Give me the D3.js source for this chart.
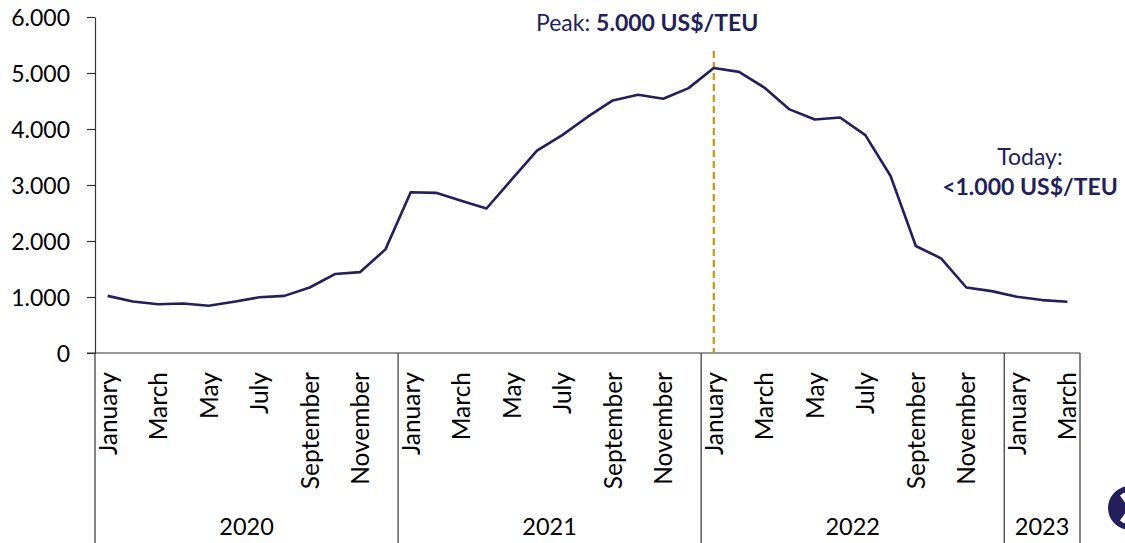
<!DOCTYPE html>
<html lang="en">
<head>
<meta charset="UTF-8">
<title>Container freight rate</title>
<script src="https://d3js.org/d3.v7.min.js"></script>
<style>
  body { margin: 0; background: #fff; }
  svg text { font-family: Lato, "Open Sans", sans-serif; }
</style>
</head>
<body>
<div id="chart"></div>
<script>
// monthly rate, US$/TEU, Jan 2020 .. Mar 2023
var years = ["2020", "2021", "2022", "2023"];
var yearMonths = [12, 12, 12, 3];
var monthNames = ["January", "February", "March", "April", "May", "June", "July",
                  "August", "September", "October", "November", "December"];
var rates = [1020, 920, 870, 885, 845, 915, 995, 1020, 1170, 1410, 1445, 1850,
             2870, 2860, 2720, 2580, 3100, 3615, 3890, 4215, 4510, 4610, 4540, 4730,
             5090, 5020, 4740, 4350, 4170, 4205, 3890, 3160, 1910, 1690, 1170, 1105,
             1005, 945, 915];
var yTicks = [0, 1000, 2000, 3000, 4000, 5000, 6000];
var peakIndex = 24;

var W = 1125, H = 543;
var plotLeft = 95, plotRight = 1080, plotTop = 17, plotBase = 353;
var navy = "#221f5b";

// build category list
var cats = [];
years.forEach(function(yr, yi) {
    for (var m = 0; m < yearMonths[yi]; m++) {
        cats.push({ year: yr, month: monthNames[m], m: m, i: cats.length });
    }
});

var svg = d3.select("#chart").append("svg")
    .attr("width", W)
    .attr("height", H);

var x = d3.scaleBand()
    .domain(d3.range(cats.length))
    .range([plotLeft, plotRight])
    .padding(0);

var y = d3.scaleLinear()
    .domain([0, 6000])
    .range([plotBase, plotTop]);

// y axis
var yAxis = d3.axisLeft(y)
    .tickValues(yTicks)
    .tickSize(8)
    .tickSizeOuter(0)
    .tickFormat(function(d) { return d3.format(",")(d).replace(/,/g, "."); });

var gy = svg.append("g")
    .attr("transform", "translate(" + plotLeft + ",0)")
    .call(yAxis);
gy.select(".domain").attr("stroke", "#333").attr("stroke-width", 1.2);
gy.selectAll(".tick line").attr("stroke", "#333").attr("stroke-width", 1.2);
gy.selectAll(".tick text")
    .attr("x", -25)
    .attr("dy", "0.36em")
    .style("font-size", "23px")
    .attr("fill", "#000");

// x axis base line + group separators
svg.append("line")
    .attr("x1", plotLeft - 8).attr("x2", plotRight)
    .attr("y1", plotBase).attr("y2", plotBase)
    .attr("stroke", "#333").attr("stroke-width", 1.2);

var bounds = [0];
yearMonths.forEach(function(n, i) { bounds.push(bounds[i] + n); });

function edge(b) { return b < cats.length ? x(b) : plotRight; }

svg.selectAll("line.sep")
    .data(bounds)
    .enter().append("line")
    .attr("class", "sep")
    .attr("x1", edge)
    .attr("x2", edge)
    .attr("y1", plotBase)
    .attr("y2", H)
    .attr("stroke", "#333")
    .attr("stroke-width", 1.2);

// month labels (every second month)
svg.selectAll("text.month")
    .data(cats.filter(function(c) { return c.m % 2 === 0; }))
    .enter().append("text")
    .attr("class", "month")
    .attr("transform", function(c) {
        return "translate(" + (x(c.i) + x.bandwidth() / 2 + 9) + "," + (plotBase + 19) + ") rotate(-90)";
    })
    .attr("text-anchor", "end")
    .style("font-size", "24.5px")
    .attr("fill", "#000")
    .text(function(c) { return c.month; });

// year labels
svg.selectAll("text.year")
    .data(years)
    .enter().append("text")
    .attr("class", "year")
    .attr("x", function(yr, i) { return (edge(bounds[i]) + edge(bounds[i + 1])) / 2; })
    .attr("y", 535)
    .attr("text-anchor", "middle")
    .style("font-size", "23.5px")
    .attr("fill", "#000")
    .text(function(d) { return d; });

// peak marker
var px = x(peakIndex) + x.bandwidth() / 2;
svg.append("line")
    .attr("x1", px).attr("x2", px)
    .attr("y1", 51).attr("y2", plotBase)
    .attr("stroke", "#c9960f")
    .attr("stroke-width", 2.2)
    .attr("stroke-dasharray", "7,4");

// line
var line = d3.line()
    .x(function(d, i) { return x(i) + x.bandwidth() / 2; })
    .y(function(d) { return y(d); });

svg.append("path")
    .datum(rates)
    .attr("d", line)
    .attr("fill", "none")
    .attr("stroke", navy)
    .attr("stroke-width", 2.6)
    .attr("stroke-linejoin", "round");

// annotations
var peak = svg.append("text")
    .attr("x", 536)
    .attr("y", 31)
    .style("font-size", "23px")
    .attr("fill", navy);
peak.append("tspan").text("Peak: ");
peak.append("tspan").attr("font-weight", "bold").text("5.000 US$/TEU");

svg.append("text")
    .attr("x", 1030)
    .attr("y", 165)
    .attr("text-anchor", "middle")
    .style("font-size", "23px")
    .attr("fill", navy)
    .text("Today:");
svg.append("text")
    .attr("x", 1030)
    .attr("y", 195)
    .attr("text-anchor", "middle")
    .style("font-size", "23px")
    .attr("font-weight", "bold")
    .attr("fill", navy)
    .text("<1.000 US$/TEU");

// logo badge, cut off at the edge
var logo = svg.append("g").attr("transform", "translate(1130,508)");
logo.append("circle").attr("r", 22).attr("fill", navy);
logo.append("path")
    .attr("d", "M-8,-14 L2,0 L-8,14 M14,-14 L4,0 L14,14")
    .attr("stroke", "#fff")
    .attr("stroke-width", 5)
    .attr("fill", "none");
</script>
</body>
</html>
